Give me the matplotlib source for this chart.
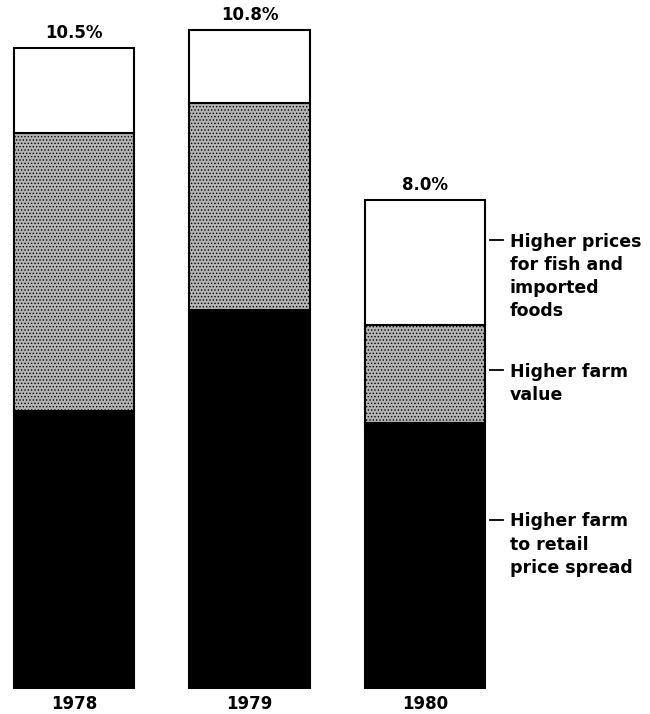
import numpy
import matplotlib
matplotlib.use("Agg")
import matplotlib.pyplot as plt

plt.rcParams['font.family'] = ['DejaVu Sans']
plt.rcParams['hatch.linewidth'] = 0.6
plt.rcParams['hatch.color'] = '#333333'

years = ['1978', '1979', '1980']
totals = ['10.5%', '10.8%', '8.0%']
spread = [4.55, 6.2, 4.35]        # farm to retail price spread (black)
farm_value = [4.55, 3.4, 1.6]     # farm value (stippled)
fish_imports = [1.4, 1.2, 2.05]   # fish and imported foods (white)

labels = ['Higher prices\nfor fish and\nimported\nfoods',
          'Higher farm\nvalue',
          'Higher farm\nto retail\nprice spread']
label_y = [7.35, 5.22, 2.76]

fig = plt.figure(figsize=(6.5, 7.14), dpi=100)
ax = fig.add_axes([0, 0, 1, 1])
ax.set_xlim(-0.4217, 3.282)
ax.set_ylim(-0.4266, 11.29)
ax.axis('off')

x = numpy.arange(len(years))
w = 0.684
spread = numpy.array(spread)
farm_value = numpy.array(farm_value)
fish_imports = numpy.array(fish_imports)

ax.bar(x, spread, w, color='black', edgecolor='black', linewidth=1.5)
ax.bar(x, farm_value, w, bottom=spread, color='#b4b4b4', edgecolor='black',
       linewidth=1.5, hatch='.....')
ax.bar(x, fish_imports, w, bottom=spread + farm_value, color='white',
       edgecolor='black', linewidth=1.5)

top = spread + farm_value + fish_imports
for i in range(len(years)):
    ax.text(x[i], top[i] + 0.1, totals[i], ha='center', va='bottom',
            fontsize=12, fontweight='bold')
    ax.text(x[i], -0.27, years[i], ha='center', va='center',
            fontsize=12, fontweight='bold')

for lab, yy in zip(labels, label_y):
    ax.plot([2.37, 2.444], [yy, yy], color='black', linewidth=1.3)
    ax.text(2.484, yy + 0.12, lab, ha='left', va='top', fontsize=12.5,
            fontweight='bold', linespacing=1.37)

plt.savefig("out.png", dpi=100)
